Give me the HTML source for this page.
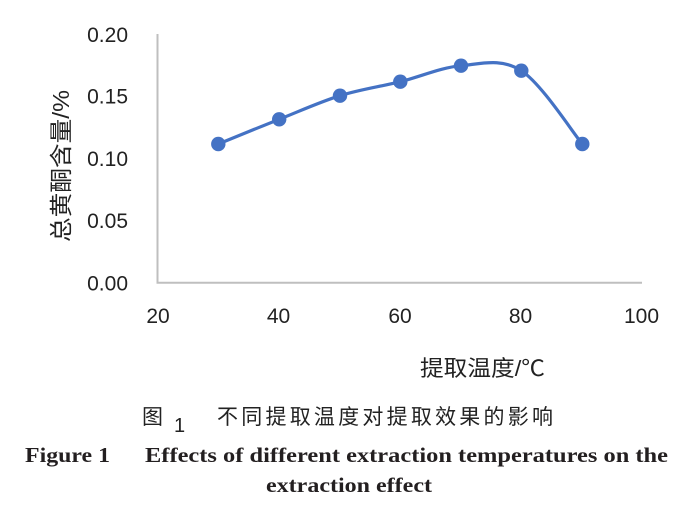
<!DOCTYPE html>
<html>
<head>
<meta charset="utf-8">
<style>
html,body{margin:0;padding:0;background:#fff;}
svg{display:block;}
</style>
</head>
<body>
<svg width="700" height="512" viewBox="0 0 700 512" xmlns="http://www.w3.org/2000/svg">
  <rect width="700" height="512" fill="#fff"/>
  <!-- axes -->
  <line x1="157.5" y1="34" x2="157.5" y2="283" stroke="#bfbfbf" stroke-width="2"/>
  <line x1="156.5" y1="282.8" x2="642" y2="282.8" stroke="#bfbfbf" stroke-width="2"/>

  <!-- y tick labels -->
  <g font-family="Liberation Sans, sans-serif" font-size="21" fill="#222" text-anchor="end">
    <text x="128" y="42">0.20</text>
    <text x="128" y="103.5">0.15</text>
    <text x="128" y="166">0.10</text>
    <text x="128" y="228">0.05</text>
    <text x="128" y="290.5">0.00</text>
  </g>
  <!-- x tick labels -->
  <g font-family="Liberation Sans, sans-serif" font-size="21" fill="#222" text-anchor="middle">
    <text x="158" y="323">20</text>
    <text x="278.5" y="323">40</text>
    <text x="400" y="323">60</text>
    <text x="520.5" y="323">80</text>
    <text x="641.5" y="323">100</text>
  </g>

  <!-- y axis title -->
  <text transform="translate(69,242) rotate(-90)" font-family="Liberation Sans, 'Noto Sans CJK SC', sans-serif" font-size="23" fill="#222" textLength="152" lengthAdjust="spacingAndGlyphs">总黄酮含量/%</text>

  <!-- x axis title -->
  <text x="420" y="376" font-family="Liberation Sans, 'Noto Sans CJK SC', sans-serif" font-size="22" fill="#222" textLength="125" lengthAdjust="spacingAndGlyphs">提取温度/℃</text>

  <!-- series -->
  <path d="M218.3,144 C228.45,139.88 258.92,127.35 279.2,119.3 C299.48,111.25 319.82,101.97 340,95.7 C360.18,89.43 380.13,86.7 400.3,81.7 C420.47,76.7 440.83,67.53 461,65.7 C481.17,63.87 501.08,57.65 521.3,70.7 C541.52,83.75 572.13,131.78 582.3,144"
        fill="none" stroke="#4472c4" stroke-width="3.2" stroke-linecap="round"/>
  <g fill="#4472c4">
    <circle cx="218.3" cy="144" r="7.2"/>
    <circle cx="279.2" cy="119.3" r="7.2"/>
    <circle cx="340" cy="95.7" r="7.2"/>
    <circle cx="400.3" cy="81.7" r="7.2"/>
    <circle cx="461" cy="65.7" r="7.2"/>
    <circle cx="521.3" cy="70.7" r="7.2"/>
    <circle cx="582.3" cy="144" r="7.2"/>
  </g>

  <!-- Chinese caption -->
  <g font-family="Liberation Sans, 'Noto Sans CJK SC', sans-serif" fill="#222">
    <text x="142" y="424" font-size="21">图</text>
    <text x="174" y="432" font-size="20">1</text>
    <text x="217" y="424" font-size="21" textLength="336" lengthAdjust="spacing">不同提取温度对提取效果的影响</text>
  </g>

  <!-- English caption -->
  <g font-family="Liberation Serif, serif" font-weight="bold" fill="#231f20" font-size="21">
    <text x="25" y="462" textLength="85" lengthAdjust="spacingAndGlyphs">Figure 1</text>
    <text x="145" y="462" textLength="523" lengthAdjust="spacingAndGlyphs">Effects of different extraction temperatures on the</text>
    <text x="266" y="492" textLength="166" lengthAdjust="spacingAndGlyphs">extraction effect</text>
  </g>
</svg>
</body>
</html>
